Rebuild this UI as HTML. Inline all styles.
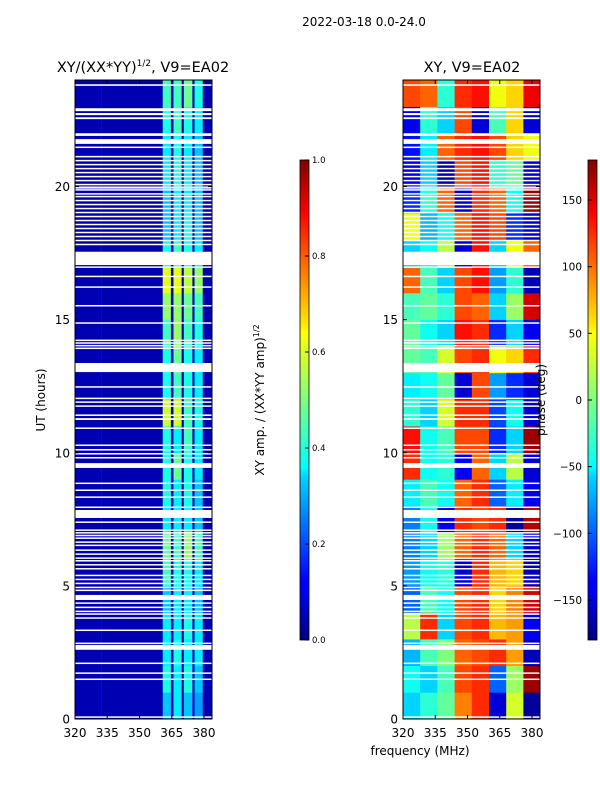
<!DOCTYPE html>
<html><head><meta charset="utf-8"><style>
html,body{margin:0;padding:0;background:#fff;}
svg{display:block;font-family:"DejaVu Sans","Liberation Sans",sans-serif;}
</style></head><body>
<svg id="fig" width="600" height="800" viewBox="0 0 600 800" xmlns="http://www.w3.org/2000/svg">
<defs>
<linearGradient id="jet" x1="0" y1="1" x2="0" y2="0">
<stop offset="0" stop-color="#00007f"/><stop offset="0.11" stop-color="#0000ff"/><stop offset="0.125" stop-color="#0000ff"/>
<stop offset="0.34" stop-color="#00d4ff"/><stop offset="0.36" stop-color="#0ff"/><stop offset="0.5" stop-color="#7fff7f"/>
<stop offset="0.64" stop-color="#ff0"/><stop offset="0.66" stop-color="#ffe600"/><stop offset="0.89" stop-color="#f00"/>
<stop offset="1" stop-color="#7f0000"/></linearGradient>
</defs>
<text x="364" y="26" font-size="12" text-anchor="middle">2022-03-18 0.0-24.0</text>
<text x="143" y="72" font-size="14.5" text-anchor="middle">XY/(XX*YY)<tspan font-size="9" dy="-6">1/2</tspan><tspan dy="6">, V9=EA02</tspan></text>
<text x="472" y="72" font-size="14.5" text-anchor="middle">XY, V9=EA02</text>
<g id="left"></g>
<g id="right"></g>
<g id="axes"></g>
<text transform="translate(45,400) rotate(-90)" font-size="12" text-anchor="middle">UT (hours)</text>
<text x="420" y="755" font-size="12" text-anchor="middle">frequency (MHz)</text>
<rect x="300" y="160" width="9" height="480" fill="url(#jet)" stroke="#000" stroke-width="0.8"/>
<text transform="translate(264,400) rotate(-90)" font-size="12" text-anchor="middle">XY amp. / (XX*YY amp)<tspan font-size="8" dy="-5">1/2</tspan></text>
<rect x="588" y="160" width="9" height="480" fill="url(#jet)" stroke="#000" stroke-width="0.8"/>
<text transform="translate(545,400) rotate(-90)" font-size="12" text-anchor="middle">phase (deg)</text>
<g id="cbt"></g>
</svg>
<script>
var hourTicks=[0,5,10,15,20];
var freqTicks=[320,335,350,365,380];
var ampTicks=[0.0,0.2,0.4,0.6,0.8,1.0];
var phaseTicks=[-150,-100,-50,0,50,100,150];
var ampBands=[[360.8,364.6],[365.8,369.6],[370.6,374.6],[375.6,379.4]];
var ampBackground=0.05;
var ampValues=[[.32,.36,.32,.28],[.4,.36,.4,.32],[.36,.4,.36,.36],[.36,.36,.4,.36],[.32,.36,.36,.32],[.44,.4,.4,.36],[.48,.44,.52,.44],[.36,.36,.36,.32],[.4,.36,.4,.32],[.4,.48,.4,.36],[.4,.36,.44,.36],[.58,.58,.44,.4],[.4,.44,.4,.36],[.4,.48,.4,.36],[.44,.52,.44,.4],[.52,.52,.48,.44],[.6,.6,.56,.52],[.4,.44,.4,.36],[.32,.36,.4,.32],[.32,.36,.36,.32],[.36,.4,.36,.32],[.36,.4,.36,.32],[.4,.44,.4,.36],[.44,.44,.48,.4]];
var phaseBands=[320,328,336,344,352,360,368,376,384];
var phaseValues=[[-60,-30,-10,90,120,-150,30,-170],[-40,-60,-20,110,120,-100,10,170],[-70,-20,0,100,110,120,80,-160],[20,120,-60,110,120,70,80,-140],[-100,-20,-40,110,120,60,90,150],[-80,-40,-30,-150,120,70,60,-160],[-90,-60,10,100,120,100,-60,-150],[-90,-40,-140,120,110,120,-170,160],[-50,-20,-40,100,120,-100,-50,-140],[120,-40,-30,-140,100,-60,20,-150],[130,-40,-20,110,110,-120,-60,170],[-30,-60,30,120,120,-110,-40,-150],[-50,-40,-10,-150,110,-80,-120,-150],[-10,-20,30,110,120,40,60,120],[-10,-40,-60,130,120,-120,-60,-140],[-20,-10,-30,110,100,-60,10,150],[100,-20,-60,110,130,-80,-30,-160],[-60,-40,20,-150,130,-60,40,100],[40,-70,-40,100,130,110,-120,-150],[-120,-30,100,-150,120,100,-40,170],[-140,-60,-160,110,130,-30,-10,-150],[-130,-50,100,120,130,110,60,40],[-140,-30,-60,110,-150,-20,60,-150],[110,100,-30,120,130,40,60,140]];
var gaps=[[23.78,23.84],[22.83,22.94],[22.68,22.76],[22.53,22.6],[21.9,22.0],[21.6,21.78],[21.45,21.5],[21.1,21.15],[20.95,21.0],[20.8,20.85],[20.65,20.7],[20.5,20.55],[20.35,20.4],[20.2,20.25],[20.05,20.1],[19.92,20.0],[19.85,19.9],[19.7,19.75],[19.6,19.65],[19.45,19.5],[19.3,19.35],[19.15,19.2],[19.0,19.05],[18.85,18.9],[18.7,18.75],[18.55,18.6],[18.4,18.45],[18.25,18.3],[18.1,18.15],[17.95,18.0],[17.8,17.85],[17.05,17.55],[16.95,17.0],[16.6,16.65],[16.2,16.25],[15.5,15.55],[14.85,14.9],[14.2,14.25],[14.1,14.15],[14.0,14.05],[13.9,13.95],[13.03,13.37],[12.45,12.5],[12.02,12.07],[11.88,11.93],[11.73,11.78],[11.38,11.44],[11.23,11.3],[10.9,10.95],[10.27,10.31],[10.1,10.14],[9.95,9.99],[9.8,9.84],[9.43,9.61],[8.84,8.88],[8.58,8.62],[8.32,8.36],[7.94,7.98],[7.55,7.85],[7.38,7.42],[7.08,7.12],[6.98,7.02],[6.88,6.92],[6.78,6.82],[6.63,6.67],[6.51,6.55],[6.33,6.37],[6.18,6.22],[6.03,6.07],[5.93,5.97],[5.78,5.82],[5.63,5.67],[5.38,5.42],[5.23,5.27],[5.08,5.12],[4.93,4.97],[4.82,4.86],[4.47,4.66],[4.34,4.38],[4.18,4.22],[4.03,4.07],[3.93,3.97],[3.78,3.82],[3.32,3.36],[2.83,2.87],[2.6,2.78],[2.08,2.12],[1.71,1.75],[1.48,1.52],[0.06,0.1]];
var NS='http://www.w3.org/2000/svg';
var H0=719,HP=26.625;
function yOf(h){return H0-h*HP;}
function xL(f){return 75+(f-320)*2.15;}
function xR(f){return 403+(f-320)*2.15;}
function jet(v){v=Math.max(0,Math.min(1,v));function c(x){return Math.round(255*Math.max(0,Math.min(1,x)));}
return 'rgb('+c(1.5-Math.abs(4*v-3))+','+c(1.5-Math.abs(4*v-2))+','+c(1.5-Math.abs(4*v-1))+')';}
function mk(tag,attrs,parent){var e=document.createElementNS(NS,tag);for(var k in attrs)e.setAttribute(k,attrs[k]);parent.appendChild(e);return e;}
var L=document.getElementById('left'),R=document.getElementById('right'),A=document.getElementById('axes'),C=document.getElementById('cbt');
var bg=mk('rect',{x:xL(320),y:yOf(24),width:xL(383.7)-xL(320),height:yOf(0)-yOf(24),fill:jet(ampBackground)},L);


var vl=mk('rect',{x:xL(332),y:yOf(24),width:1,height:yOf(0)-yOf(24),fill:jet(0.13)},L);


for(var h=0;h<ampValues.length;h++){for(var b=0;b<ampBands.length;b++){
var r=mk('rect',{x:xL(ampBands[b][0]),y:yOf(h+1),width:xL(ampBands[b][1])-xL(ampBands[b][0]),height:HP+0.3,fill:jet(ampValues[h][b])},L);

}}
for(var h=0;h<phaseValues.length;h++){for(var b=0;b<phaseBands.length-1;b++){
var x0=xR(phaseBands[b]),x1=Math.min(xR(phaseBands[b+1]),540);
var r=mk('rect',{x:x0,y:yOf(h+1),width:x1-x0+0.3,height:HP+0.3,fill:jet((phaseValues[h][b]+180)/360)},R);

}}
gaps.forEach(function(g){var y=yOf(g[1]),hh=Math.max(1.5,yOf(g[0])-yOf(g[1]));
var a=mk('rect',{x:75,y:y,width:137,height:hh,fill:'#fff'},L);


var b=mk('rect',{x:403,y:y,width:137,height:hh,fill:'#fff'},R);

});
[[75,xL],[403,xR]].forEach(function(p,i){var x0=p[0],fx=p[1];
var fr=mk('rect',{x:x0,y:yOf(24),width:137,height:yOf(0)-yOf(24),fill:'none',stroke:'#000','stroke-width':1},A);


hourTicks.forEach(function(t){var y=yOf(t);
mk('line',{x1:x0,x2:x0+4,y1:y,y2:y,stroke:'#000'},A);mk('line',{x1:x0+137,x2:x0+133,y1:y,y2:y,stroke:'#000'},A);
var tx=mk('text',{x:x0-5,y:y+4.5,'font-size':12,'text-anchor':'end'},A);tx.textContent=t;

});
freqTicks.forEach(function(t){var x=fx(t);
mk('line',{x1:x,x2:x,y1:719,y2:715,stroke:'#000'},A);mk('line',{x1:x,x2:x,y1:80,y2:84,stroke:'#000'},A);
var tx=mk('text',{x:x,y:737,'font-size':12,'text-anchor':'middle'},A);tx.textContent=t;

});});
ampTicks.forEach(function(t){var y=640-t*480;
mk('line',{x1:305,x2:309,y1:y,y2:y,stroke:'#000'},C);
var tx=mk('text',{x:312,y:y+3,'font-size':8.5},C);tx.textContent=t.toFixed(1);

});
phaseTicks.forEach(function(t){var y=400-t*480/360;
mk('line',{x1:588,x2:592,y1:y,y2:y,stroke:'#000'},C);
var tx=mk('text',{x:582,y:y+4,'font-size':10.5,'text-anchor':'end'},C);tx.textContent=(t<0?'\u2212'+(-t):t);

});
</script>
</body></html>
